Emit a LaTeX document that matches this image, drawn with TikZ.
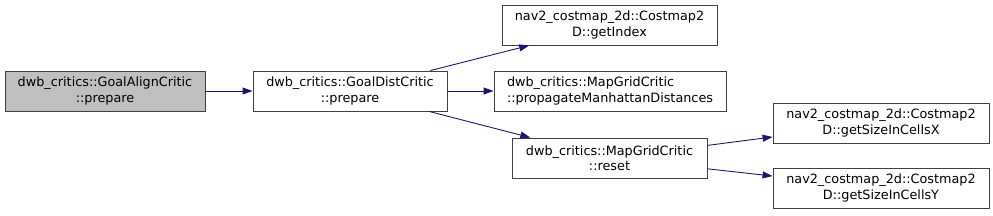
\documentclass[tikz,border=0pt]{standalone}
\usepackage{fontspec}
\setmainfont{DejaVu Sans}
\usetikzlibrary{arrows.meta}
\definecolor{edgeblue}{HTML}{191970}
\definecolor{boxline}{HTML}{404040}
\definecolor{hlfill}{HTML}{BFBFBF}
\begin{document}
\begin{tikzpicture}[x=1pt,y=-1pt,
  fn/.style={draw=boxline, line width=0.9pt, fill=white, inner sep=0pt,
    align=center, font=\fontsize{12.8}{15.5}\selectfont, minimum height=40pt},
  hl/.style={fn, fill=hlfill},
  edge/.style={draw=edgeblue, line width=0.9pt, -{Triangle[length=10pt,width=7pt]}}]
\useasboundingbox (0,0) rectangle (993,215);
\node[hl, minimum width=200pt] (a) at (105,91) {dwb\_critics::GoalAlignCritic\\::prepare};
\node[fn, minimum width=194pt] (b) at (350,91) {dwb\_critics::GoalDistCritic\\::prepare};
\node[fn, minimum width=215pt] (c) at (609.5,25) {nav2\_costmap\_2d::Costmap2\\D::getIndex};
\node[fn, minimum width=232pt, align=left] (d) at (610,91) {dwb\_critics::MapGridCritic\\::propagateManhattanDistances};
\node[fn, minimum width=195pt] (e) at (609.5,158) {dwb\_critics::MapGridCritic\\::reset};
\node[fn, minimum width=216pt] (f) at (881,123) {nav2\_costmap\_2d::Costmap2\\D::getSizeInCellsX};
\node[fn, minimum width=216pt] (g) at (881,188) {nav2\_costmap\_2d::Costmap2\\D::getSizeInCellsY};
\draw[edge] (a) -- (b);
\draw[edge] (b) -- (c);
\draw[edge] (b.east) -- (d.west);
\draw[edge] (b) -- (e);
\draw[edge] (e) -- (f);
\draw[edge] (e) -- (g);
\end{tikzpicture}
\end{document}
